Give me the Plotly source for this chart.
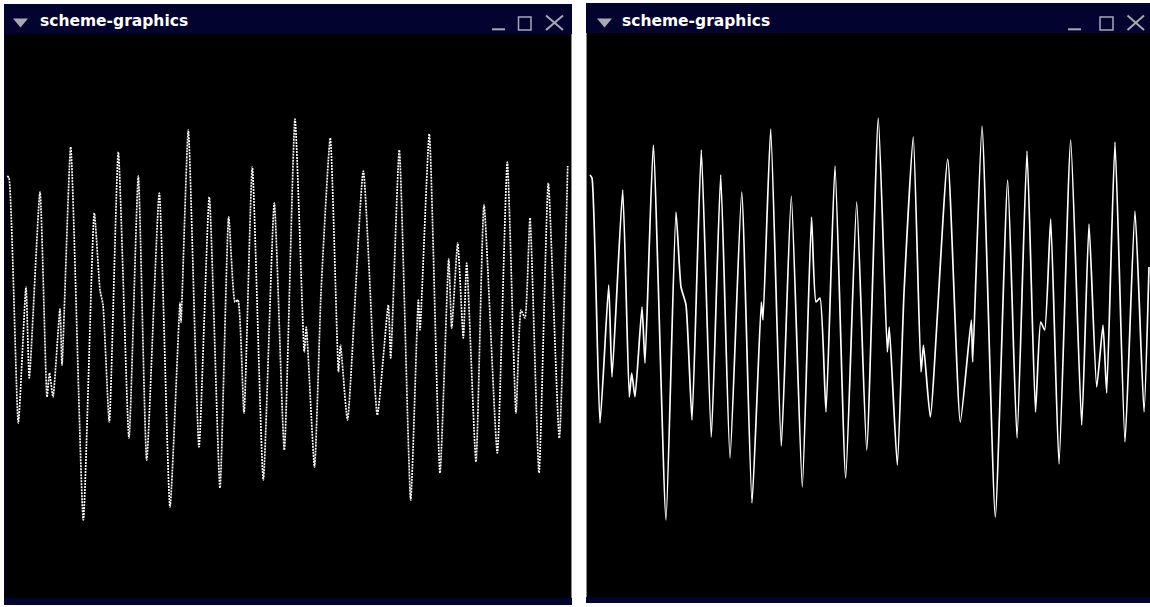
import plotly.graph_objects as go

# ---- data read from the two windows (sample index, amplitude) ----
left_t = [2.3, 4, 13.3, 21, 24.3, 35, 42, 44.5, 48, 55, 57, 65.7, 78.3, 89.3, 95, 98, 104.3,
          113.3, 124, 133.3, 141.7, 154.3, 165, 175, 176, 183.3, 194, 204.3, 215, 223.7, 230,
          233, 239, 247.3, 258.3, 269.3, 279.3, 290, 299.3, 301.3, 309.5, 316, 325.3, 333.5,
          335.5, 342.5, 358.3, 372.3, 383.3, 385.7, 394.3, 405.7, 413.3, 415, 424.3, 435,
          443.7, 446.7, 452.7, 458.3, 461.7, 471, 479, 492.3, 502.3, 511, 516, 520, 525, 534,
          543.3, 554.3, 562.7]
left_a = [140, 138, -107, 29, -62, 124, -81, -57, -81, 7, -49, 169, -204, 103, 26, 11, -106,
          164, -122, 140, -144, 123, -191, 13, -6, 186, -131, 119, -172, 99, 14,
          16, -97, 149, -164, 113, -134, 197, -36, -11, -151, 23, 178, -56,
          -29, -104, 145, -99, 11, -42, 166, -184, 16, -14, 182, -157,
          57, -12, 73, -22, 53, -146, 111, -137, 154, -97, 6, -2, 98, -157,
          133, -122, 150]

right_t = [2, 4, 12, 20.7, 24, 34.7, 41.3, 43.7, 47, 54, 57, 65.3, 78, 88, 93, 98, 104,
           113.3, 123.3, 132.7, 142, 153.7, 164, 173.3, 175, 182.7, 193.3, 203.3, 214.3, 223.5,
           228, 232, 238, 247, 257.7, 268.7, 278.7, 290.3, 299.3, 301.3, 309.3, 316, 325.3, 333,
           335.5, 342.3, 359.7, 372.3, 383.3, 384.7, 394, 407.3, 419.7, 429, 439, 447.5, 452.7,
           456.7, 462.7, 471, 482.7, 493.7, 501, 508.7, 515, 518.7, 527, 537, 547, 556, 561]
right_a = [141, 138, -107, 31, -61, 126, -81, -57, -81, 9, -47, 171, -204, 104, 29, 11, -104,
           166, -121, 141, -142, 124, -187, 14, -4, 187, -130, 120, -171, 99,
           14, 18, -96, 150, -162, 114, -134, 198, -36, -11, -149, 23, 179, -56,
           -29, -101, 157, -106, -4, -46, 190, -201, 136, -122, 165, -96, -6,
           -14, 97, -148, 176, -109, 92, -71, -9, -77, 174, -126, 105, -96, 49]

window_title = "scheme-graphics"

W, H = 1150, 607
def px(x):
    return x / W
def py(y):
    return 1 - y / H

NAVY = "#03032f"
GREY = "#a9a9b4"

fig = go.Figure()

fig.add_trace(go.Scatter(x=left_t, y=left_a, mode="lines", xaxis="x", yaxis="y",
                         line=dict(color="white", width=1.7, dash="2px,1px",
                                   shape="spline", smoothing=0.5),
                         hoverinfo="skip", showlegend=False))
fig.add_trace(go.Scatter(x=right_t, y=right_a, mode="lines", xaxis="x2", yaxis="y2",
                         line=dict(color="white", width=1.7, shape="spline", smoothing=0.5),
                         hoverinfo="skip", showlegend=False))

shapes = []
annotations = []

def window(x0, x1, ytop, ybar, yblack_end, ybot, tri_x, text_x, und, box, cross, edge_x):
    # frame (navy)
    shapes.append(dict(type="rect", xref="paper", yref="paper", layer="below",
                       x0=px(x0), x1=px(x1), y0=py(ybot), y1=py(ytop),
                       fillcolor=NAVY, line=dict(width=0)))
    # black canvas
    shapes.append(dict(type="rect", xref="paper", yref="paper", layer="below",
                       x0=px(x0 + 1), x1=px(x1 - 1), y0=py(yblack_end), y1=py(ybar),
                       fillcolor="black", line=dict(width=0)))
    # thin grey edge
    shapes.append(dict(type="line", xref="paper", yref="paper", layer="below",
                       x0=px(edge_x), x1=px(edge_x), y0=py(yblack_end), y1=py(ybar),
                       line=dict(color="#8a8a8a", width=1)))
    # menu triangle
    tx0, tx1 = tri_x
    shapes.append(dict(type="path", xref="paper", yref="paper",
                       path=f"M {px(tx0)} {py(18.5)} L {px(tx1)} {py(18.5)} L {px((tx0+tx1)/2)} {py(27.5)} Z",
                       fillcolor=GREY, line=dict(width=0)))
    # minimise
    shapes.append(dict(type="line", xref="paper", yref="paper",
                       x0=px(und[0]), x1=px(und[1]), y0=py(29.3), y1=py(29.3),
                       line=dict(color=GREY, width=2)))
    # maximise box
    shapes.append(dict(type="rect", xref="paper", yref="paper",
                       x0=px(box[0]), x1=px(box[1]), y0=py(30), y1=py(17),
                       line=dict(color=GREY, width=1.5)))
    # close cross
    shapes.append(dict(type="line", xref="paper", yref="paper",
                       x0=px(cross[0]), x1=px(cross[1]), y0=py(15.5), y1=py(30),
                       line=dict(color=GREY, width=2)))
    shapes.append(dict(type="line", xref="paper", yref="paper",
                       x0=px(cross[0]), x1=px(cross[1]), y0=py(30), y1=py(15.5),
                       line=dict(color=GREY, width=2)))
    annotations.append(dict(xref="paper", yref="paper", x=px(text_x), y=py(21),
                            xanchor="left", yanchor="middle", showarrow=False,
                            text=f"<b>{window_title}</b>",
                            font=dict(family="DejaVu Sans", size=15.5, color="white")))

window(4, 572, 4, 34, 598, 605, (13, 28), 38, (492, 505), (518.5, 531), (546, 563), 571.5)
window(586, 1151, 3, 33, 597, 603, (597, 612), 620, (1068, 1081), (1100, 1113), (1127.5, 1144), 586.5)

fig.update_layout(
    width=W, height=H, autosize=False,
    margin=dict(l=0, r=0, t=0, b=0),
    paper_bgcolor="white", plot_bgcolor="rgba(0,0,0,0)",
    shapes=shapes, annotations=annotations,
    xaxis=dict(domain=[px(5), px(571)], range=[0, 566], visible=False, fixedrange=True),
    yaxis=dict(domain=[py(598), py(34)], range=[-282, 282], visible=False, fixedrange=True),
    xaxis2=dict(domain=[px(588), px(1150)], range=[0, 562], visible=False, fixedrange=True,
                anchor="y2"),
    yaxis2=dict(domain=[py(597), py(33)], range=[-281, 283], visible=False, fixedrange=True,
                anchor="x2"),
)

fig.write_html("out.html", config={"displayModeBar": False},
               post_script="document.body.style.margin='0';document.body.style.padding='0';"
                           "document.documentElement.style.overflow='hidden';")
